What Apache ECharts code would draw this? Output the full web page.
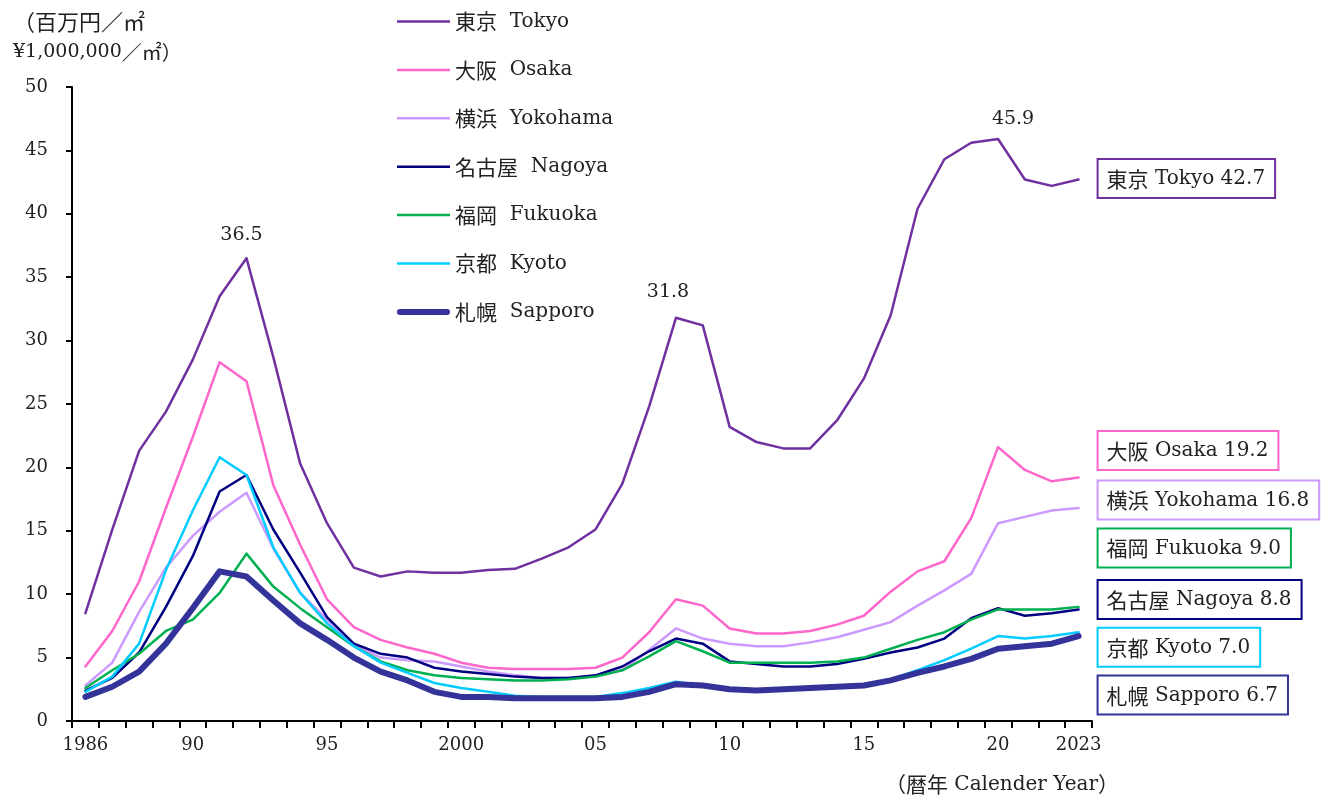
<!DOCTYPE html>
<html>
<head>
<meta charset="utf-8">
<script src="https://cdn.jsdelivr.net/npm/echarts@6/dist/echarts.min.js"></script>
<style>
  html, body { margin: 0; padding: 0; background: #ffffff; }
  #chart { width: 1331px; height: 796px; }
</style>
</head>
<body>
<div id="chart"></div>
<script>
// Residential land price per square metre in major cities (million yen / m²)
const years = [
  '1986','1987','1988','1989','1990','1991','1992','1993','1994','1995',
  '1996','1997','1998','1999','2000','2001','2002','2003','2004','2005',
  '2006','2007','2008','2009','2010','2011','2012','2013','2014','2015',
  '2016','2017','2018','2019','2020','2021','2022','2023'
];

// Years that carry an axis label, and the text shown for each
const tickYears = ['1986', '1990', '1995', '2000', '2005', '2010', '2015', '2020', '2023'];
const tickTexts = ['1986', '90', '95', '2000', '05', '10', '15', '20', '2023'];

const tokyo = [
  8.5, 15.1, 21.3, 24.4, 28.5, 33.5, 36.5, 28.7, 20.3, 15.6,
  12.1, 11.4, 11.8, 11.7, 11.7, 11.9, 12.0, 12.8, 13.7, 15.1,
  18.7, 24.8, 31.8, 31.2, 23.2, 22.0, 21.5, 21.5, 23.7, 27.0,
  32.0, 40.4, 44.3, 45.6, 45.9, 42.7, 42.2, 42.7
];
const osaka = [
  4.3, 7.1, 11.0, 16.8, 22.4, 28.3, 26.8, 18.6, 13.9, 9.6,
  7.4, 6.4, 5.8, 5.3, 4.6, 4.2, 4.1, 4.1, 4.1, 4.2,
  5.0, 7.0, 9.6, 9.1, 7.3, 6.9, 6.9, 7.1, 7.6, 8.3,
  10.2, 11.8, 12.6, 16.0, 21.6, 19.8, 18.9, 19.2
];
const yokohama = [
  2.8, 4.6, 8.6, 12.1, 14.6, 16.5, 18.0, 13.6, 10.1, 8.0,
  6.0, 5.0, 4.8, 4.7, 4.3, 3.9, 3.6, 3.4, 3.4, 3.5,
  4.0, 5.6, 7.3, 6.5, 6.1, 5.9, 5.9, 6.2, 6.6, 7.2,
  7.8, 9.1, 10.3, 11.6, 15.6, 16.1, 16.6, 16.8
];
const nagoya = [
  2.4, 3.4, 5.4, 9.0, 13.0, 18.1, 19.4, 15.1, 11.7, 8.2,
  6.1, 5.3, 5.0, 4.2, 3.9, 3.7, 3.5, 3.4, 3.4, 3.6,
  4.3, 5.5, 6.5, 6.1, 4.7, 4.5, 4.3, 4.3, 4.5, 4.9,
  5.4, 5.8, 6.5, 8.1, 8.9, 8.3, 8.5, 8.8
];
const fukuoka = [
  2.6, 4.0, 5.3, 7.1, 8.0, 10.1, 13.2, 10.6, 8.9, 7.4,
  5.9, 4.7, 4.0, 3.6, 3.4, 3.3, 3.2, 3.2, 3.3, 3.5,
  4.0, 5.1, 6.3, 5.5, 4.6, 4.6, 4.6, 4.6, 4.7, 5.0,
  5.7, 6.4, 7.0, 8.0, 8.8, 8.8, 8.8, 9.0
];
const kyoto = [
  2.3, 3.5, 6.1, 11.9, 16.6, 20.8, 19.4, 13.7, 10.1, 7.7,
  5.9, 4.6, 3.8, 3.0, 2.6, 2.3, 2.0, 1.9, 1.9, 1.9,
  2.2, 2.6, 3.1, 2.8, 2.5, 2.4, 2.5, 2.6, 2.7, 2.8,
  3.3, 4.0, 4.8, 5.7, 6.7, 6.5, 6.7, 7.0
];
const sapporo = [
  1.9, 2.7, 3.9, 6.1, 8.9, 11.8, 11.4, 9.5, 7.7, 6.4,
  5.0, 3.9, 3.2, 2.3, 1.9, 1.9, 1.8, 1.8, 1.8, 1.8,
  1.9, 2.3, 2.9, 2.8, 2.5, 2.4, 2.5, 2.6, 2.7, 2.8,
  3.2, 3.8, 4.3, 4.9, 5.7, 5.9, 6.1, 6.7
];

// Tokyo peaks that get a value callout
const tokyoPeakYears = ['1992', '2008', '2020'];

const FONT = "'DejaVu Serif', 'Noto Sans CJK JP', serif";
const CJK_FONT = "'Noto Sans CJK JP', 'DejaVu Serif', serif";
const TEXT = '#222222';

// name, values, colour, line width, end-label vertical shift
const cities = [
  { name: '東京 Tokyo',     data: tokyo,    color: '#7030A0', width: 2.5, dy: -1 },
  { name: '大阪 Osaka',     data: osaka,    color: '#FF66CC', width: 2.5, dy: -27 },
  { name: '横浜 Yokohama',  data: yokohama, color: '#CC99FF', width: 2.5, dy: -8 },
  { name: '名古屋 Nagoya',  data: nagoya,   color: '#000080', width: 2.5, dy: -10 },
  { name: '福岡 Fukuoka',   data: fukuoka,  color: '#00B050', width: 2.5, dy: -59 },
  { name: '京都 Kyoto',     data: kyoto,    color: '#00CCFF', width: 2.5, dy: 15 },
  { name: '札幌 Sapporo',   data: sapporo,  color: '#333399', width: 6,   dy: 59 }
];

const peakOffsets = { '1992': [-5, 0], '2008': [-8, -2], '2020': [15, 4] };

// Japanese part of a name gets a slightly larger glyph size
const richName = name => {
  const sp = name.indexOf(' ');
  return `{k|${name.slice(0, sp)}}  ${name.slice(sp + 1)}`;
};
const rich = {
  k: { fontFamily: CJK_FONT, fontSize: 21, color: TEXT, lineHeight: 24 }
};

// Straight legend strokes matching each series' line width
const legendIcon = w => {
  if (w > 4) {
    const r = w / 2;
    return `path://M${r},0H${53 - r}A${r},${r} 0 0 1 ${53 - r},${w}H${r}A${r},${r} 0 0 1 ${r},0Z`;
  }
  return `path://M0,0H53V${w}H0Z`;
};

const series = cities.map(c => {
  const s = {
    name: c.name,
    type: 'line',
    data: c.data,
    showSymbol: false,
    symbol: 'none',
    lineStyle: { color: c.color, width: c.width, cap: 'round', join: 'round' },
    itemStyle: { color: c.color },
    emphasis: { disabled: true },
    endLabel: {
      show: true,
      distance: 0,
      offset: [20, c.dy],
      formatter: p => `${richName(p.seriesName).replace('  ', ' ')} ${Number(p.value).toFixed(1)}`,
      color: TEXT,
      fontFamily: FONT,
      fontSize: 20,
      lineHeight: 24,
      rich: rich,
      backgroundColor: '#ffffff',
      borderColor: c.color,
      borderWidth: 2,
      padding: [7, 9, 6, 8]
    }
  };
  if (c.data === tokyo) {
    s.markPoint = {
      symbol: 'circle',
      symbolSize: 0,
      silent: true,
      label: {
        show: true,
        position: 'top',
        distance: 14,
        color: TEXT,
        fontFamily: FONT,
        fontSize: 19,
        formatter: p => Number(p.value).toFixed(1)
      },
      data: tokyoPeakYears.map(y => {
        const i = years.indexOf(y);
        return { coord: [y, tokyo[i]], value: tokyo[i], label: { offset: peakOffsets[y] } };
      })
    };
  }
  return s;
});

const chart = echarts.init(document.getElementById('chart'), null, { renderer: 'canvas' });
chart.setOption({
  animation: false,
  backgroundColor: '#ffffff',
  textStyle: { fontFamily: FONT },
  title: [
    {
      text: '{k|（百万円／㎡}\n{n|¥1,000,000}{k2|／㎡）}',
      left: 8,
      top: 2,
      textStyle: {
        fontFamily: FONT, fontSize: 19, fontWeight: 'normal', color: TEXT, lineHeight: 30,
        rich: {
          k: { fontFamily: CJK_FONT, fontSize: 22, color: TEXT, lineHeight: 30 },
          k2: { fontFamily: CJK_FONT, fontSize: 20, color: TEXT, lineHeight: 30 },
          n: { fontFamily: FONT, fontSize: 19, color: TEXT, lineHeight: 30 }
        }
      }
    },
    {
      text: '{k|（暦年} Calender Year{k|）}',
      left: 880,
      top: 769,
      textStyle: {
        fontFamily: FONT, fontSize: 20, fontWeight: 'normal', color: TEXT,
        rich: {
          k: { fontFamily: CJK_FONT, fontSize: 21, color: TEXT }
        }
      }
    }
  ],
  legend: {
    orient: 'vertical',
    left: 392,
    top: 4.5,
    itemWidth: 53,
    itemHeight: 14,
    itemGap: 24.4,
    padding: 5,
    formatter: name => richName(name),
    textStyle: { fontFamily: FONT, fontSize: 20, color: TEXT, lineHeight: 24, rich: rich },
    data: cities.map(c => ({ name: c.name, icon: legendIcon(c.width) }))
  },
  grid: { left: 72, right: 239, top: 87, bottom: 75, containLabel: false },
  xAxis: {
    type: 'category',
    data: years,
    boundaryGap: true,
    axisLine: { lineStyle: { color: '#000', width: 2 } },
    axisTick: { show: true, interval: 0, length: 7, lineStyle: { color: '#000', width: 2 } },
    axisLabel: {
      interval: (idx, val) => tickYears.includes(val),
      formatter: val => tickTexts[tickYears.indexOf(val)],
      margin: 15,
      color: TEXT,
      fontFamily: FONT,
      fontSize: 18
    },
    splitLine: { show: false }
  },
  yAxis: {
    type: 'value',
    min: 0,
    max: 50,
    interval: 5,
    axisLine: { show: true, lineStyle: { color: '#000', width: 2 } },
    axisTick: { show: true, length: 6, lineStyle: { color: '#000', width: 2 } },
    axisLabel: { margin: 24, color: TEXT, fontFamily: FONT, fontSize: 18 },
    splitLine: { show: false }
  },
  series: series
});
</script>
</body>
</html>
